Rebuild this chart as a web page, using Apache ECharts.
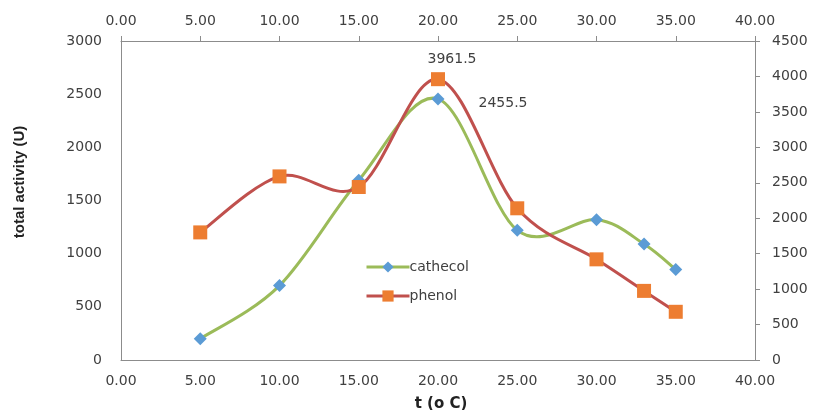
<!DOCTYPE html>
<html><head><meta charset="utf-8">
<script src="https://cdn.jsdelivr.net/npm/echarts@6/dist/echarts.min.js"></script>
<style>html,body{margin:0;padding:0;background:#fff}#c{width:814px;height:410px}</style>
</head><body><div id="c"></div>
<script>
const temps = [5, 10, 15, 20, 25, 30, 33, 35];
const cathecol = [200, 700, 1690, 2455.5, 1220, 1320, 1090, 850];
const phenol = [1800, 2590, 2440, 3961.5, 2140, 1420, 975, 680];
const seriesNames = ['cathecol', 'phenol'];
const xTicks = {min: 0, max: 40, interval: 5};
const leftTicks = {min: 0, max: 3000, interval: 500};
const rightTicks = {min: 0, max: 4500, interval: 500};
const peakIndex = 3;

const font = 'DejaVu Sans';
const txt = '#404040';
const axisCol = '#8c8c8c';
const colCat = {line: '#9BBB59', mark: '#5B9BD5'};
const colPhe = {line: '#C0504D', mark: '#ED7D31'};

function pairs(vals, labelCfg) {
  return temps.map((t, i) => {
    const item = {value: [t, vals[i]]};
    if (labelCfg && i === peakIndex) item.label = labelCfg;
    return item;
  });
}

// Excel-like smoothed curve (Catmull-Rom style bezier) drawn through axis coords
function curveRenderer(color) {
  return function (params, api) {
    const n = params.dataInsideLength;
    const i = params.dataIndexInside;
    if (i >= n - 1) return;
    const P = k => api.coord([api.value(0, k), api.value(1, k)]);
    const p0 = P(Math.max(i - 1, 0)), p1 = P(i), p2 = P(i + 1), p3 = P(Math.min(i + 2, n - 1));
    const t = 1 / 6;
    return {
      type: 'bezierCurve',
      shape: {
        x1: p1[0], y1: p1[1], x2: p2[0], y2: p2[1],
        cpx1: p1[0] + (p2[0] - p0[0]) * t, cpy1: p1[1] + (p2[1] - p0[1]) * t,
        cpx2: p2[0] - (p3[0] - p1[0]) * t, cpy2: p2[1] - (p3[1] - p1[1]) * t
      },
      style: {stroke: color, lineWidth: 3, fill: null, lineCap: 'round'}
    };
  };
}

const chart = echarts.init(document.getElementById('c'), null, {renderer: 'canvas'});
const xAxisBase = {
  type: 'value', min: xTicks.min, max: xTicks.max, interval: xTicks.interval,
  splitLine: {show: false},
  axisLine: {show: true, onZero: false, lineStyle: {color: axisCol, width: 1}},
  axisLabel: {color: txt, fontFamily: font, fontSize: 14, formatter: v => v.toFixed(2)}
};
const plainNum = v => String(v);
chart.setOption({
  animation: false,
  backgroundColor: '#fff',
  grid: {left: 121, right: 59, top: 41, bottom: 50, containLabel: false, outerBoundsMode: 'none'},
  legend: {
    orient: 'vertical', left: 360, top: 255, itemGap: 15,
    itemWidth: 43, itemHeight: 14,
    textStyle: {color: txt, fontFamily: font, fontSize: 14, padding: [0, 0, 0, -5]},
    data: [
      {name: seriesNames[0], lineStyle: {color: colCat.line, width: 3, opacity: 1}},
      {name: seriesNames[1], lineStyle: {color: colPhe.line, width: 3, opacity: 1}}
    ]
  },
  xAxis: [
    Object.assign({}, xAxisBase, {position: 'bottom', axisTick: {show: false},
      axisLabel: Object.assign({}, xAxisBase.axisLabel, {margin: 14}),
      name: 't (o C)', nameLocation: 'middle', nameGap: 37,
      nameTextStyle: {color: '#222', fontFamily: font, fontSize: 15, fontWeight: 'bold', padding: [0, 0, 0, 6]}}),
    Object.assign({}, xAxisBase, {position: 'top', axisTick: {show: true, inside: false, length: 5, lineStyle: {color: axisCol}},
      axisLabel: Object.assign({}, xAxisBase.axisLabel, {margin: 13})})
  ],
  yAxis: [
    {type: 'value', position: 'left', min: leftTicks.min, max: leftTicks.max, interval: leftTicks.interval,
     splitLine: {show: false}, axisTick: {show: false},
     axisLine: {show: true, onZero: false, lineStyle: {color: axisCol}},
     axisLabel: {color: txt, fontFamily: font, fontSize: 14, margin: 19, formatter: plainNum}},
    {type: 'value', position: 'right', min: rightTicks.min, max: rightTicks.max, interval: rightTicks.interval,
     splitLine: {show: false}, axisTick: {show: true, length: 5, lineStyle: {color: axisCol}},
     axisLine: {show: true, onZero: false, lineStyle: {color: axisCol}},
     axisLabel: {color: txt, fontFamily: font, fontSize: 14, margin: 17, formatter: plainNum}}
  ],
  graphic: [{
    type: 'text', x: 20, y: 182, rotation: Math.PI / 2,
    style: {text: 'total activity (U)', font: 'bold 15px "Liberation Sans"', fill: '#222',
      textAlign: 'center', textVerticalAlign: 'middle'}
  }],
  series: [
    {
      name: 'cathecol-curve', type: 'custom', xAxisIndex: 0, yAxisIndex: 0, z: 1,
      renderItem: curveRenderer(colCat.line), encode: {x: 0, y: 1},
      data: temps.map((t, i) => [t, cathecol[i]]), silent: true
    },
    {
      name: 'phenol-curve', type: 'custom', xAxisIndex: 0, yAxisIndex: 1, z: 1,
      renderItem: curveRenderer(colPhe.line), encode: {x: 0, y: 1},
      data: temps.map((t, i) => [t, phenol[i]]), silent: true
    },
    {
      name: seriesNames[0], type: 'line', xAxisIndex: 0, yAxisIndex: 0, z: 3,
      symbol: 'diamond', symbolSize: 13,
      lineStyle: {color: colCat.line, width: 3, opacity: 0},
      itemStyle: {color: colCat.mark},
      data: pairs(cathecol, {show: true, position: 'right', distance: 34, offset: [0, 4],
        color: txt, fontFamily: font, fontSize: 14, formatter: p => p.value[1]})
    },
    {
      name: seriesNames[1], type: 'line', xAxisIndex: 0, yAxisIndex: 1, z: 3,
      symbol: 'rect', symbolSize: 14,
      lineStyle: {color: colPhe.line, width: 3, opacity: 0},
      itemStyle: {color: colPhe.mark},
      data: pairs(phenol, {show: true, position: 'top', distance: 6, offset: [14, 0],
        color: txt, fontFamily: font, fontSize: 14, formatter: p => p.value[1]})
    }
  ]
});
</script></body></html>
